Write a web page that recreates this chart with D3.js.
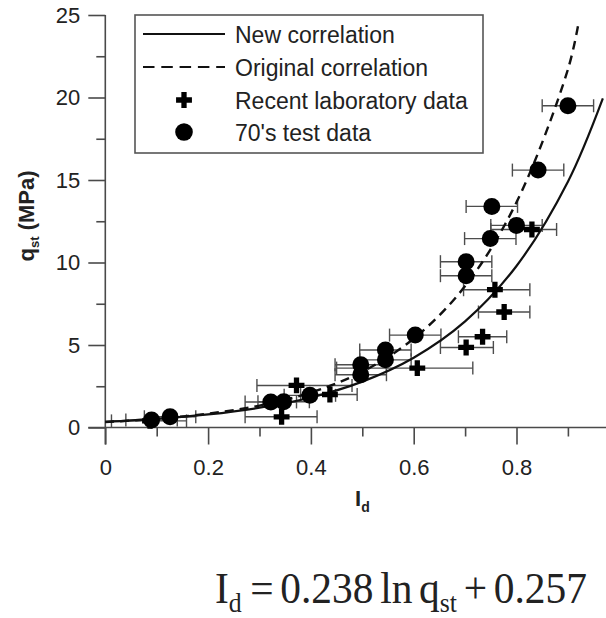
<!DOCTYPE html>
<meta charset="utf-8">
<script src="https://d3js.org/d3.v7.min.js"></script>
<style>
  body { margin: 0; background: #fff; }
  text { font-family: "Liberation Sans", Arial, sans-serif; fill: #222; }
</style>
<div id="chart"></div>
<script>
  // ---- data ----
  // 70's test data: Id, qst (MPa), error bar low / high on Id
  const oldId = [0.090, 0.126, 0.322, 0.347, 0.398, 0.497, 0.497, 0.545, 0.545, 0.603, 0.702, 0.702, 0.749, 0.752, 0.800, 0.842, 0.900];
  const oldQ = [0.45, 0.65, 1.55, 1.56, 1.95, 3.2, 3.8, 4.1, 4.7, 5.6, 9.2, 10.05, 11.45, 13.4, 12.25, 15.6, 19.5];
  const oldLo = [0.040, 0.076, 0.272, 0.297, 0.348, 0.447, 0.447, 0.495, 0.495, 0.553, 0.652, 0.652, 0.699, 0.702, 0.750, 0.792, 0.850];
  const oldHi = [0.140, 0.176, 0.372, 0.397, 0.448, 0.547, 0.547, 0.595, 0.595, 0.653, 0.752, 0.752, 0.799, 0.802, 0.850, 0.892, 0.950];

  // recent laboratory data
  const labId = [0.087, 0.343, 0.372, 0.437, 0.607, 0.702, 0.734, 0.758, 0.776, 0.830];
  const labQ = [0.40, 0.65, 2.55, 2.0, 3.6, 4.85, 5.5, 8.35, 7.0, 12.0];
  const labLo = [0.012, 0.272, 0.295, 0.380, 0.450, 0.652, 0.687, 0.697, 0.726, 0.750];
  const labHi = [0.158, 0.412, 0.480, 0.490, 0.715, 0.755, 0.781, 0.826, 0.826, 0.878];

  // correlation curves (points along the drawn lines)
  const newCorrId = [0, 0.1, 0.2, 0.3, 0.4, 0.5, 0.6, 0.7, 0.8, 0.9, 0.968];
  const newCorrQ = [0.34, 0.52, 0.79, 1.2, 1.82, 2.78, 4.23, 6.43, 9.79, 14.9, 19.95];
  const origCorrId = [0, 0.1, 0.2, 0.3, 0.4, 0.5, 0.6, 0.7, 0.8, 0.9, 0.92];
  const origCorrQ = [0.33, 0.53, 0.84, 1.33, 2.12, 3.38, 5.39, 8.57, 13.65, 21.7, 24.4];

  const xMajor = [0, 0.2, 0.4, 0.6, 0.8];
  const xMinor = [0.1, 0.3, 0.5, 0.7, 0.9];
  const yMajor = [0, 5, 10, 15, 20, 25];
  const yMinor = [2.5, 7.5, 12.5, 17.5, 22.5];

  const legendLabels = ["New correlation", "Original correlation", "Recent laboratory data", "70's test data"];

  // ---- layout ----
  const W = 606, H = 618;
  const axisColor = "#4a4a4a";

  const svg = d3.select("#chart")
    .append("svg")
    .attr("width", W)
    .attr("height", H);

  const x = d3.scaleLinear().domain([0, 1]).range([105.3, 619.3]);
  const y = d3.scaleLinear().domain([0, 25]).range([427.5, 15]);

  // axes
  svg.append("line")
    .attr("x1", x(0) - 17).attr("x2", W)
    .attr("y1", y(0)).attr("y2", y(0))
    .attr("stroke", axisColor).attr("stroke-width", 1.6);
  svg.append("line")
    .attr("x1", x(0)).attr("x2", x(0))
    .attr("y1", y(25)).attr("y2", y(0) + 17)
    .attr("stroke", axisColor).attr("stroke-width", 1.6);

  svg.append("g")
    .attr("transform", `translate(0, ${y(0)})`)
    .call(d3.axisBottom(x).tickValues(xMinor).tickSize(9).tickFormat(""));
  svg.append("g")
    .attr("transform", `translate(0, ${y(0)})`)
    .call(d3.axisBottom(x).tickValues(xMajor).tickSize(17).tickPadding(15)
      .tickFormat(d => d === 0 ? "0" : d3.format(".1f")(d)));

  svg.append("g")
    .attr("transform", `translate(${x(0)}, 0)`)
    .call(d3.axisLeft(y).tickValues(yMinor).tickSize(9).tickFormat(""));
  svg.append("g")
    .attr("transform", `translate(${x(0)}, 0)`)
    .call(d3.axisLeft(y).tickValues(yMajor).tickSize(17).tickPadding(8));

  svg.selectAll(".domain").remove();
  svg.selectAll(".tick line").attr("stroke", axisColor).attr("stroke-width", 1.6);
  svg.selectAll(".tick text")
    .style("font-family", "'Liberation Sans', Arial, sans-serif")
    .style("font-size", "22px")
    .attr("fill", "#222");

  // axis titles
  const yTitle = svg.append("text")
    .attr("transform", "translate(34, 216) rotate(-90)")
    .attr("text-anchor", "middle")
    .style("font-weight", "bold")
    .style("font-size", "22px");
  yTitle.append("tspan").text("q");
  yTitle.append("tspan").attr("dy", 5).style("font-size", "13px").text("st");
  yTitle.append("tspan").attr("dy", -5).text(" (MPa)");

  const xTitle = svg.append("text")
    .attr("x", 355).attr("y", 506)
    .style("font-weight", "bold")
    .style("font-size", "22px");
  xTitle.append("tspan").text("I");
  xTitle.append("tspan").attr("dy", 6).style("font-size", "14px").text("d");

  // error bars
  const old = oldId.map((d, i) => ({ id: d, q: oldQ[i], lo: oldLo[i], hi: oldHi[i] }));
  const lab = labId.map((d, i) => ({ id: d, q: labQ[i], lo: labLo[i], hi: labHi[i] }));
  const all = old.concat(lab);
  const cap = 6.5;

  const bars = svg.append("g")
    .attr("stroke", "#4d4d4d")
    .attr("stroke-width", 1.4);
  bars.selectAll("line.h")
    .data(all)
    .join("line")
    .attr("class", "h")
    .attr("x1", d => x(d.lo)).attr("x2", d => x(d.hi))
    .attr("y1", d => y(d.q)).attr("y2", d => y(d.q));
  bars.selectAll("line.l")
    .data(all)
    .join("line")
    .attr("class", "l")
    .attr("x1", d => x(d.lo)).attr("x2", d => x(d.lo))
    .attr("y1", d => y(d.q) - cap).attr("y2", d => y(d.q) + cap);
  bars.selectAll("line.r")
    .data(all)
    .join("line")
    .attr("class", "r")
    .attr("x1", d => x(d.hi)).attr("x2", d => x(d.hi))
    .attr("y1", d => y(d.q) - cap).attr("y2", d => y(d.q) + cap);

  // correlation curves
  const line = d3.line()
    .x(d => x(d[0]))
    .y(d => y(d[1]))
    .curve(d3.curveCatmullRom);

  svg.append("path")
    .datum(origCorrId.map((d, i) => [d, origCorrQ[i]]))
    .attr("d", line)
    .attr("fill", "none")
    .attr("stroke", "#111")
    .attr("stroke-width", 2.4)
    .attr("stroke-dasharray", "9,6");

  svg.append("path")
    .datum(newCorrId.map((d, i) => [d, newCorrQ[i]]))
    .attr("d", line)
    .attr("fill", "none")
    .attr("stroke", "#111")
    .attr("stroke-width", 2.2);

  // markers
  const cross = d3.symbol().type(d3.symbolCross).size(140);

  svg.selectAll("path.lab")
    .data(lab)
    .join("path")
    .attr("class", "lab")
    .attr("d", cross)
    .attr("transform", d => `translate(${x(d.id)}, ${y(d.q)})`)
    .attr("fill", "#000");

  svg.selectAll("circle.old")
    .data(old)
    .join("circle")
    .attr("class", "old")
    .attr("cx", d => x(d.id))
    .attr("cy", d => y(d.q))
    .attr("r", 8.5)
    .attr("fill", "#000");

  // legend
  const lg = svg.append("g");
  lg.append("rect")
    .attr("x", 135).attr("y", 15)
    .attr("width", 348).attr("height", 138)
    .attr("fill", "#fff")
    .attr("stroke", "#555")
    .attr("stroke-width", 1.6);
  const rowY = [34, 67, 100, 132];
  lg.append("line")
    .attr("x1", 143).attr("x2", 225).attr("y1", rowY[0]).attr("y2", rowY[0])
    .attr("stroke", "#111").attr("stroke-width", 2.2);
  lg.append("line")
    .attr("x1", 143).attr("x2", 225).attr("y1", rowY[1]).attr("y2", rowY[1])
    .attr("stroke", "#111").attr("stroke-width", 2.2)
    .attr("stroke-dasharray", "11.5,6.8");
  lg.append("path")
    .attr("d", cross)
    .attr("transform", `translate(184, ${rowY[2]})`)
    .attr("fill", "#000");
  lg.append("circle")
    .attr("cx", 184).attr("cy", rowY[3]).attr("r", 8.8)
    .attr("fill", "#000");
  lg.selectAll("text.lab")
    .data(legendLabels)
    .join("text")
    .attr("class", "lab")
    .attr("x", 235)
    .attr("y", (d, i) => rowY[i] + 8.5)
    .style("font-size", "23px")
    .text(d => d);

  // equation, fitted to the width it takes in the figure
  const eqG = svg.append("g");
  const eq = eqG.append("text")
    .attr("x", 0).attr("y", 0)
    .style("font-family", "'Liberation Serif', 'Times New Roman', serif")
    .style("font-size", "45px")
    .style("word-spacing", "-4px")
    .attr("fill", "#111");
  eq.append("tspan").text("I");
  eq.append("tspan").attr("dy", 9).style("font-size", "28px").text("d");
  eq.append("tspan").attr("dy", -9).attr("dx", 2).text(" = 0.238 ln q");
  eq.append("tspan").attr("dy", 9).style("font-size", "28px").text("st");
  eq.append("tspan").attr("dy", -9).text(" + 0.257");
  const eqW = eq.node().getBBox().width;
  eqG.attr("transform", `translate(215, 603) scale(${372 / eqW}, 1)`);
</script>
